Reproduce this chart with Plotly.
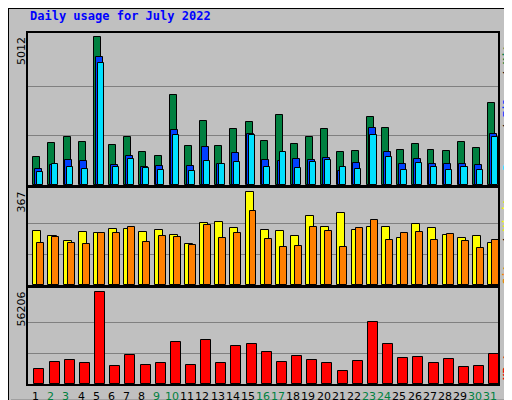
import plotly.graph_objects as go

days = list(range(1, 32))
hits = [963,1439,1643,1473,5012,1371,1643,1133,997,3071,1337,2187,1337,1915,2153,1507,
        2391,1405,1643,1915,1133,1167,2323,1949,1201,1405,1201,1167,1473,1269,2799]
files = [555,691,861,827,4328,691,997,623,657,1881,657,1303,725,1099,1745,861,
         827,895,861,929,487,759,1949,1133,725,895,725,725,725,691,1745]
pages = [453,725,623,555,4124,623,895,589,521,1711,487,827,725,793,1711,623,
         1133,589,793,861,623,555,1711,963,521,759,623,521,623,521,1643]
visits = [215,195,176,211,207,223,223,211,219,199,164,247,251,227,367,219,
          215,195,275,231,287,219,231,231,187,243,227,199,187,195,168]
sites = [168,191,168,164,207,207,231,172,195,191,160,239,187,207,295,183,
         152,156,231,215,152,227,259,179,207,211,179,203,176,148,179]
kbytes = [9435,13742,14973,13127,56206,11281,18050,11896,13127,26048,11896,27279,13127,23587,24818,19895,
          13742,17434,14973,13127,8204,14357,38354,24818,16203,16818,13127,15588,10665,11281,18665]
weekend = [2,3,9,10,16,17,23,24,30,31]
title = "Daily usage for July 2022"

W, H = 512, 400
def ydom(top, bot):
    return [1 - bot / H, 1 - top / H]
xdom = [20 / W, 490 / W]
font = "DejaVu Sans Mono, Liberation Mono, monospace"
line = dict(color="black", width=1)

fig = go.Figure()
def bar(y, off, wid, color, xa, ya):
    fig.add_trace(go.Bar(x=days, y=y, offset=off, width=wid, marker=dict(color=color, line=line),
                         xaxis=xa, yaxis=ya, showlegend=False, hoverinfo="skip"))

bar(hits, -0.15, 0.46, "#008040", "x", "y")
bar(files, -0.04, 0.46, "#0040ff", "x", "y")
bar(pages, 0.09, 0.40, "#00e0ff", "x", "y")
bar(visits, -0.15, 0.53, "#ffff00", "x2", "y2")
bar(sites, 0.11, 0.46, "#ff8000", "x2", "y2")
bar(kbytes, -0.08, 0.66, "#ff0000", "x3", "y3")

common_x = dict(range=[0.5, 31.5], domain=xdom, showline=True, linecolor="black", linewidth=2,
                mirror=True, showgrid=False, zeroline=False, fixedrange=True, automargin=False,
                showticklabels=False, ticks="")
def yax(mx, scale, dom):
    return dict(domain=dom, range=[0, mx * scale], tickvals=[mx / 3, 2 * mx / 3], showticklabels=False,
                ticks="", showgrid=True, gridcolor="#808080", gridwidth=1, showline=True, linecolor="black",
                linewidth=2, mirror=True, zeroline=False, automargin=False)

fig.update_layout(
    width=W, height=H, margin=dict(l=0, r=0, t=0, b=0, autoexpand=False),
    paper_bgcolor="#c0c0c0", plot_bgcolor="#c0c0c0", barmode="overlay", bargap=0,
    font=dict(family=font, size=11, color="black"),
    xaxis=dict(common_x, anchor="y"),
    xaxis2=dict(common_x, anchor="y2"),
    xaxis3=dict(common_x, anchor="y3"),
    yaxis=dict(yax(max(hits), 151.7 / 147.4, ydom(25, 177)), anchor="x"),
    yaxis2=dict(yax(max(visits), 96.3 / 92, ydom(180, 277)), anchor="x2"),
    yaxis3=dict(yax(max(kbytes), 95.7 / 91.3, ydom(280, 376)), anchor="x3"),
)

shapes = [
    dict(type="rect", xref="paper", yref="paper", x0=0, x1=1, y0=0, y1=1, line=dict(color="black", width=2)),
    dict(type="rect", xref="paper", yref="paper", x0=503 / W, x1=509 / W, y0=1 - 396 / H, y1=1 - 3 / H,
         fillcolor="#a0a0a0", line=dict(width=0)),
    dict(type="rect", xref="paper", yref="paper", x0=3 / W, x1=509 / W, y0=1 - 397 / H, y1=1 - 391 / H,
         fillcolor="#a0a0a0", line=dict(width=0)),
]
fig.update_layout(shapes=shapes)

ann = [
    dict(x=20 / W, y=1 - 8 / H, text=f"<b>{title}</b>", font=dict(color="#0000ff", size=12, family=font),
         xanchor="left", yanchor="middle"),
    dict(x=13 / W, y=1 - 27 / H, text=str(max(hits)), textangle=-90, yanchor="top", xanchor="center",
         font=dict(family="DejaVu Sans", size=11)),
    dict(x=13 / W, y=1 - 182 / H, text=str(max(visits)), textangle=-90, yanchor="top", xanchor="center",
         font=dict(family="DejaVu Sans", size=11)),
    dict(x=13 / W, y=1 - 282 / H, text=str(max(kbytes)), textangle=-90, yanchor="top", xanchor="center",
         font=dict(family="DejaVu Sans", size=11)),
    dict(x=499 / W, y=1 - 28 / H, textangle=-90, yanchor="top", xanchor="center",
         text='<b><span style="color:#00e0ff">Pages</span> / <span style="color:#0040ff">Files</span> / <span style="color:#008040">Hits</span></b>',
         font=dict(family=font, size=11)),
    dict(x=499 / W, y=1 - 182 / H, textangle=-90, yanchor="top", xanchor="center",
         text='<b><span style="color:#ff8000">Sites</span> / <span style="color:#ffff00">Visits</span></b>',
         font=dict(family=font, size=11)),
    dict(x=499 / W, y=1 - 374 / H, textangle=-90, yanchor="bottom", xanchor="center",
         text='<b><span style="color:#ff0000">KBytes</span></b>', font=dict(family=font, size=11)),
]
for a in ann:
    a.update(xref="paper", yref="paper", showarrow=False)
for d in days:
    ann.append(dict(x=d, xref="x3", y=1 - 388 / H, yref="paper", showarrow=False, text=str(d),
                    font=dict(family="DejaVu Sans", size=11, color="#008040" if d in weekend else "black"),
                    xanchor="center", yanchor="middle"))
fig.update_layout(annotations=ann)

fig.write_html("out.html")
